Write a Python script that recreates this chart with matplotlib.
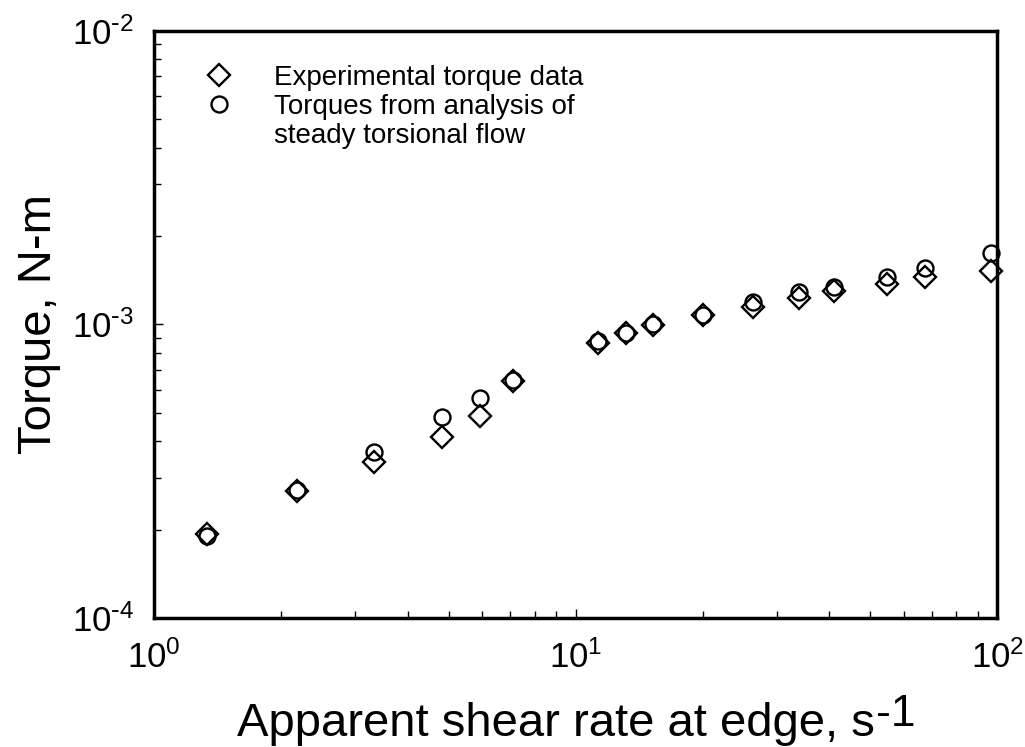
"""
plot.py - Torque frente a velocidad de cizalla aparente en el borde
(datos experimentales y torques del análisis de flujo torsional estacionario)
"""
import numpy as np
import matplotlib
matplotlib.use('Agg')
import matplotlib.pyplot as plt
from matplotlib.lines import Line2D
from matplotlib.ticker import FuncFormatter

plt.rcParams['font.family'] = ['Liberation Sans', 'DejaVu Sans']
plt.rcParams['mathtext.default'] = 'regular'

# Velocidad de cizalla aparente (1/s)
shear_rate = [1.34, 2.19, 3.32, 4.82, 5.93, 7.11, 11.29, 13.15, 15.3,
              20.1, 26.3, 33.8, 40.9, 54.7, 67.5, 96.8]
# Torque experimental (N-m)
torque_exp = [1.94e-4, 2.71e-4, 3.41e-4, 4.15e-4, 4.89e-4, 6.42e-4,
              8.63e-4, 9.33e-4, 9.96e-4, 1.077e-3, 1.15e-3, 1.233e-3,
              1.303e-3, 1.374e-3, 1.455e-3, 1.521e-3]
# Torque del análisis de flujo torsional (N-m)
torque_an = [1.90e-4, 2.72e-4, 3.69e-4, 4.85e-4, 5.62e-4, 6.45e-4,
             8.81e-4, 9.38e-4, 1.0e-3, 1.08e-3, 1.196e-3, 1.288e-3,
             1.345e-3, 1.455e-3, 1.554e-3, 1.747e-3]

labels = ['Experimental torque data', 'Torques from analysis of',
          'steady torsional flow']


def potencia(v, pos):
    # Etiqueta 10^n con guion corto en el exponente
    n = int(round(np.log10(v)))
    if n < 0:
        return r'$10^{\text{-}%d}$' % (-n)
    return r'$10^{%d}$' % n


fig = plt.figure(figsize=(10.25, 7.47), dpi=100)
ax = fig.add_axes([0.150, 0.1727, 0.823, 0.7858])

ax.plot(shear_rate, torque_exp, linestyle='none', marker='D', markersize=11,
        markerfacecolor='none', markeredgecolor='black', markeredgewidth=1.7,
        clip_on=False, zorder=3)
ax.plot(shear_rate, torque_an, linestyle='none', marker='o', markersize=11.5,
        markerfacecolor='none', markeredgecolor='black', markeredgewidth=1.7,
        clip_on=False, zorder=3)

ax.set_xscale('log')
ax.set_yscale('log')
ax.set_xlim(1, 100)
ax.set_ylim(1e-4, 1e-2)
ax.xaxis.set_major_formatter(FuncFormatter(potencia))
ax.yaxis.set_major_formatter(FuncFormatter(potencia))

for s in ax.spines.values():
    s.set_linewidth(2.5)

ax.tick_params(which='both', direction='in', top=False, right=False,
               width=1.0, labelsize=25)
ax.tick_params(axis='x', pad=16)
ax.tick_params(axis='y', pad=14)
ax.tick_params(which='major', length=6.5)
ax.tick_params(which='minor', length=5)

# Etiqueta x con el exponente -1 a tamaño completo
ax.set_xlabel('Apparent shear rate at edge, s', fontsize=34)
ax.xaxis.set_label_coords(0.477, -0.143)
ax.annotate('-1', xy=(1, 0), xycoords=ax.xaxis.label, xytext=(1, 14),
            textcoords='offset points', ha='left', va='baseline',
            fontsize=32)
ax.set_ylabel('Torque, N-m', fontsize=34, labelpad=8)

# Leyenda: la tercera línea es continuación de la segunda etiqueta
h1 = Line2D([], [], linestyle='none', marker='D', markersize=11,
            markerfacecolor='none', markeredgecolor='black',
            markeredgewidth=1.7)
h2 = Line2D([], [], linestyle='none', marker='o', markersize=11.5,
            markerfacecolor='none', markeredgecolor='black',
            markeredgewidth=1.7)
h3 = Line2D([], [], linestyle='none')
ax.legend([h1, h2, h3], labels, loc='upper left',
          bbox_to_anchor=(0.0603, 0.942), frameon=False, fontsize=20,
          borderpad=0, borderaxespad=0, handlelength=1.0,
          handletextpad=1.5, labelspacing=0.1)

plt.savefig('out.png', dpi=100)
